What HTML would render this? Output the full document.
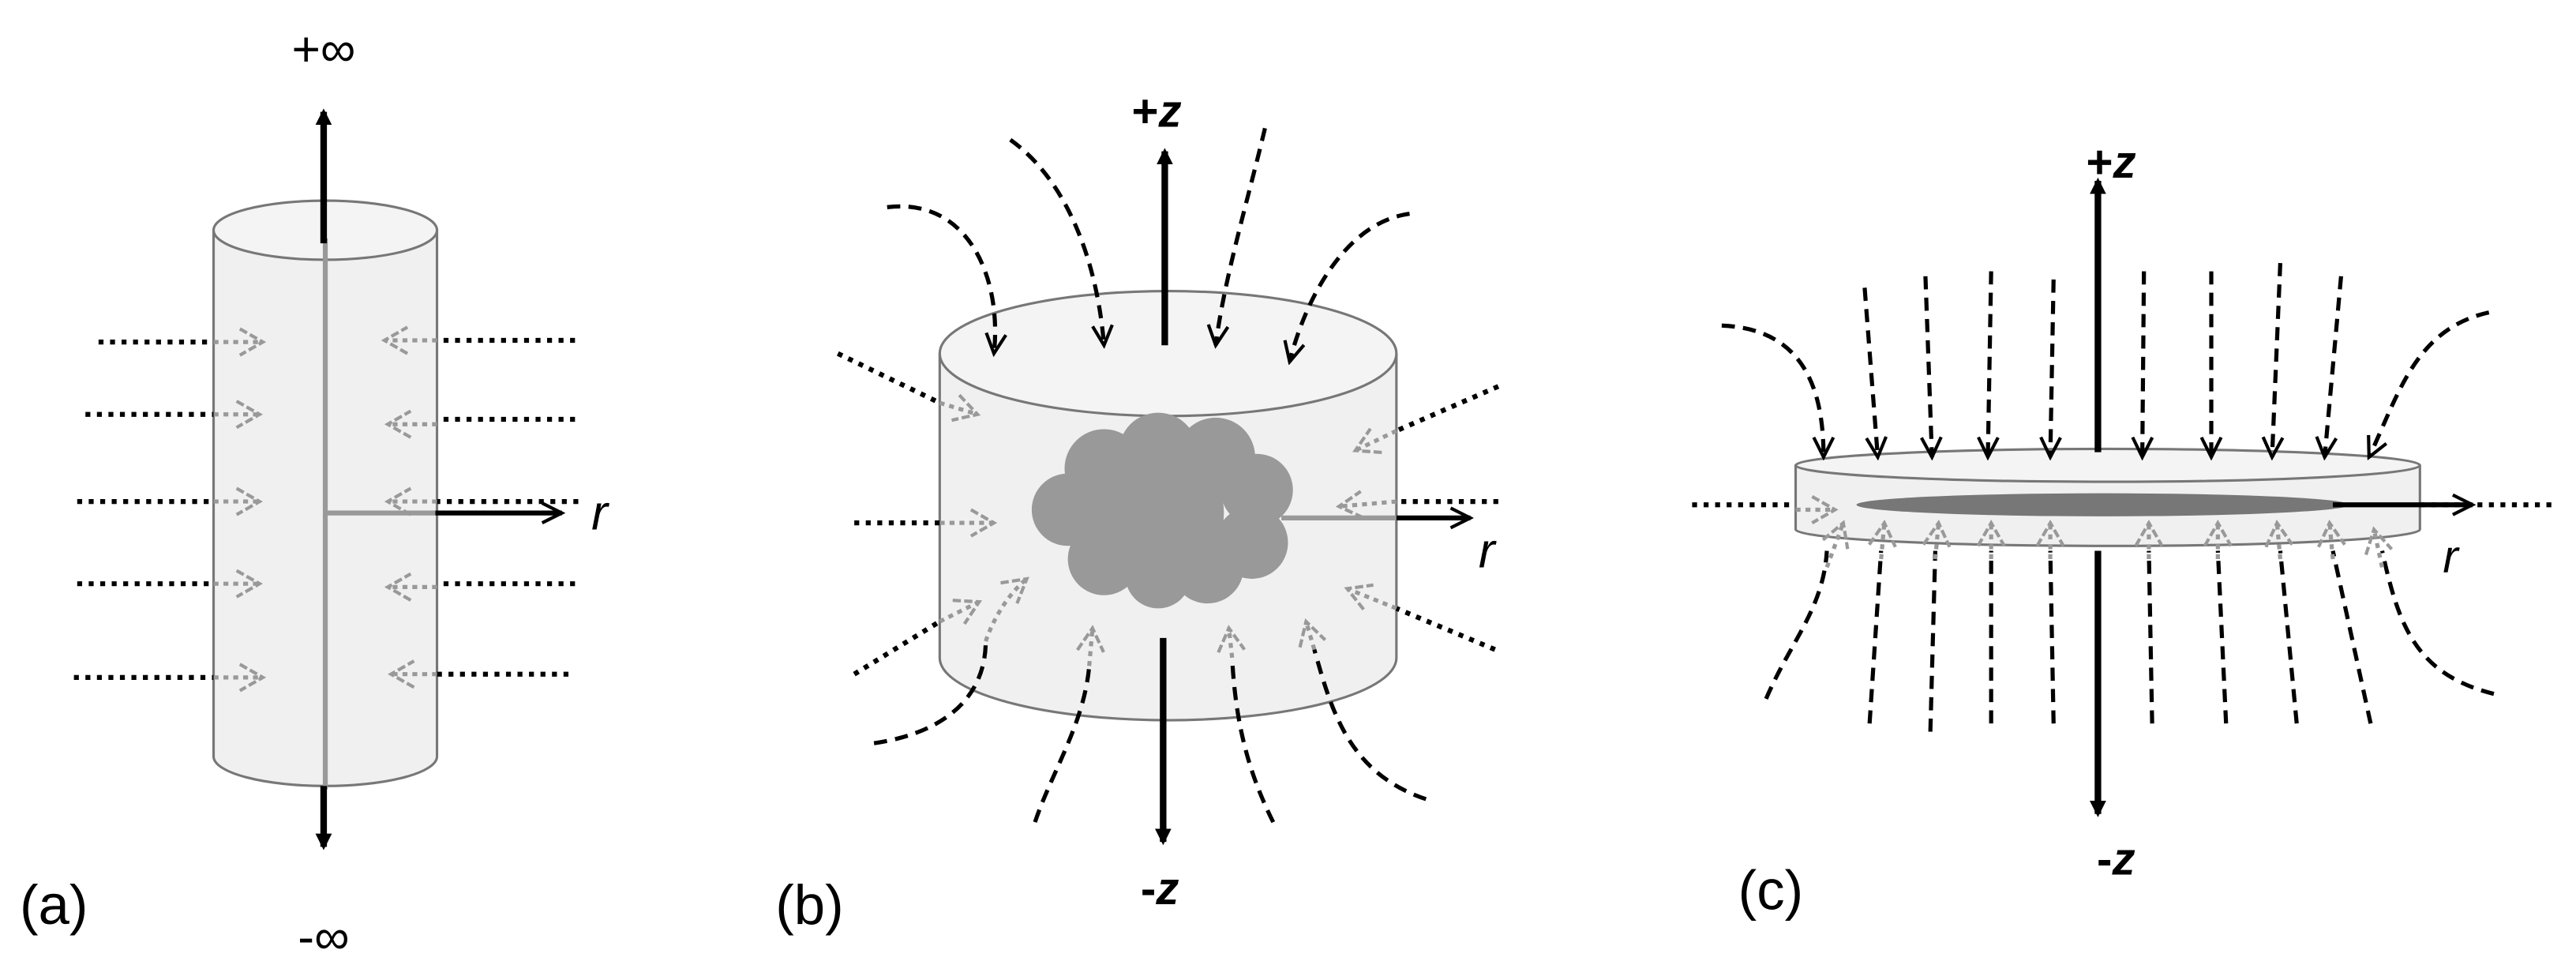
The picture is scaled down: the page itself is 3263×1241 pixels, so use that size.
<!DOCTYPE html>
<html><head><meta charset="utf-8"><style>html,body{margin:0;padding:0;background:#fff}svg{display:block}</style></head>
<body>
<svg width="3263" height="1241" viewBox="0 0 1568 596" preserveAspectRatio="none" xmlns="http://www.w3.org/2000/svg" font-family="Liberation Sans, sans-serif">
<defs>
<marker id="ab" markerWidth="10" markerHeight="10" refX="8" refY="5" orient="auto" markerUnits="userSpaceOnUse" viewBox="0 0 10 10"><path d="M0,0 L10,5 L0,10 z" fill="#000"/></marker>
<marker id="ob" markerWidth="16" markerHeight="16" refX="14" refY="8" orient="auto" markerUnits="userSpaceOnUse"><path d="M2,2 L14,8 L2,14" fill="none" stroke="#000" stroke-width="2"/></marker>
<marker id="og" markerWidth="20" markerHeight="20" refX="17" refY="10" orient="auto" markerUnits="userSpaceOnUse"><path d="M3,2 L17,10 L3,18" fill="none" stroke="#999" stroke-width="2" stroke-dasharray="5,2"/></marker>
</defs>
<rect width="1568" height="596" fill="#fff"/>

<!-- (a) -->
<path d="M130,140 L130,460 A68,18 0 0 0 266,460 L266,140" fill="#f0f0f0" stroke="#777" stroke-width="1.5"/>
<ellipse cx="198" cy="140" rx="68" ry="18" fill="#f4f4f4" stroke="#777" stroke-width="1.5"/>
<line x1="198" y1="145" x2="198" y2="480" stroke="#999" stroke-width="3"/>
<line x1="198" y1="312" x2="265" y2="312" stroke="#999" stroke-width="3"/>
<line x1="265" y1="312" x2="342" y2="312" stroke="#000" stroke-width="3" marker-end="url(#ob)"/>
<line x1="197" y1="148" x2="197" y2="68" stroke="#000" stroke-width="4" marker-end="url(#ab)"/>
<line x1="197" y1="478" x2="197" y2="515" stroke="#000" stroke-width="4" marker-end="url(#ab)"/>
<text x="197" y="40" font-size="30" text-anchor="middle">+∞</text>
<text x="197" y="580" font-size="30" text-anchor="middle">-∞</text>
<text x="360" y="322" font-size="30" font-style="italic">r</text>
<text x="12" y="562" font-size="34">(a)</text>
<g stroke="#000" stroke-width="3" stroke-dasharray="3,4">
<line x1="60" y1="208" x2="130" y2="208"/><line x1="52" y1="252" x2="130" y2="252"/><line x1="47" y1="305" x2="130" y2="305"/><line x1="47" y1="355" x2="130" y2="355"/><line x1="45" y1="412" x2="130" y2="412"/>
<line x1="350" y1="207" x2="266" y2="207"/><line x1="350" y1="255" x2="266" y2="255"/><line x1="352" y1="305" x2="266" y2="305"/><line x1="350" y1="355" x2="266" y2="355"/><line x1="346" y1="410" x2="266" y2="410"/>
</g>
<g stroke="#999" stroke-width="2.5" stroke-dasharray="3,3">
<line x1="130" y1="208" x2="160" y2="208" marker-end="url(#og)"/><line x1="130" y1="252" x2="158" y2="252" marker-end="url(#og)"/><line x1="130" y1="305" x2="158" y2="305" marker-end="url(#og)"/><line x1="130" y1="355" x2="158" y2="355" marker-end="url(#og)"/><line x1="130" y1="412" x2="160" y2="412" marker-end="url(#og)"/>
<line x1="266" y1="207" x2="234" y2="207" marker-end="url(#og)"/><line x1="266" y1="258" x2="236" y2="258" marker-end="url(#og)"/><line x1="266" y1="305" x2="236" y2="305" marker-end="url(#og)"/><line x1="266" y1="357" x2="236" y2="357" marker-end="url(#og)"/><line x1="266" y1="410" x2="238" y2="410" marker-end="url(#og)"/>
</g>

<!-- (b) -->
<path d="M572,215 L572,400 A139,38 0 0 0 850,400 L850,215" fill="#f0f0f0" stroke="#777" stroke-width="1.5"/>
<ellipse cx="711" cy="215" rx="139" ry="38" fill="#f4f4f4" stroke="#777" stroke-width="1.5"/>
<g fill="#999">
<circle cx="650" cy="310" r="22"/><circle cx="672" cy="285" r="24"/><circle cx="705" cy="275" r="24"/><circle cx="740" cy="278" r="24"/><circle cx="765" cy="298" r="22"/><circle cx="762" cy="330" r="22"/><circle cx="735" cy="345" r="22"/><circle cx="705" cy="350" r="20"/><circle cx="672" cy="340" r="22"/><circle cx="705" cy="312" r="40"/>
</g>
<line x1="780" y1="315" x2="850" y2="315" stroke="#999" stroke-width="3"/>
<line x1="850" y1="315" x2="895" y2="315" stroke="#000" stroke-width="3" marker-end="url(#ob)"/>
<line x1="709" y1="210" x2="709" y2="92" stroke="#000" stroke-width="4" marker-end="url(#ab)"/>
<line x1="708" y1="388" x2="708" y2="512" stroke="#000" stroke-width="4" marker-end="url(#ab)"/>
<text x="704" y="77" font-size="28" font-weight="bold" text-anchor="middle">+<tspan font-style="italic">z</tspan></text>
<text x="706" y="550" font-size="28" font-weight="bold" text-anchor="middle">-<tspan font-style="italic">z</tspan></text>
<text x="900" y="345" font-size="30" font-style="italic">r</text>
<text x="472" y="562" font-size="34">(b)</text>
<g fill="none" stroke="#000" stroke-width="2.5" stroke-dasharray="8,5">
<path d="M540,126 C590,120 610,170 605,215" marker-end="url(#ob)"/>
<path d="M615,85 C650,110 668,160 672,210" marker-end="url(#ob)"/>
<path d="M770,78 C760,120 745,170 740,210" marker-end="url(#ob)"/>
<path d="M858,130 C820,135 795,180 785,220" marker-end="url(#ob)"/>
<path d="M532,452 C580,445 600,420 600,390"/>
<path d="M630,500 C640,470 660,440 663,405"/>
<path d="M775,500 C760,470 752,440 750,400"/>
<path d="M868,486 C820,470 810,430 800,395"/>
</g>
<g stroke="#000" stroke-width="3" stroke-dasharray="3,4">
<line x1="510" y1="215" x2="572" y2="245"/><line x1="520" y1="318" x2="572" y2="318"/><line x1="520" y1="410" x2="572" y2="378"/>
<line x1="912" y1="235" x2="850" y2="262"/><line x1="912" y1="305" x2="850" y2="305"/><line x1="910" y1="395" x2="850" y2="370"/>
</g>
<g fill="none" stroke="#999" stroke-width="2.5" stroke-dasharray="3,3">
<line x1="572" y1="245" x2="595" y2="252" marker-end="url(#og)"/><line x1="572" y1="318" x2="605" y2="318" marker-end="url(#og)"/><line x1="572" y1="378" x2="596" y2="366" marker-end="url(#og)"/>
<line x1="850" y1="262" x2="825" y2="274" marker-end="url(#og)"/><line x1="850" y1="305" x2="815" y2="308" marker-end="url(#og)"/><line x1="850" y1="370" x2="820" y2="358" marker-end="url(#og)"/>
<path d="M600,390 C605,375 615,360 625,352" marker-end="url(#og)"/><path d="M663,405 L665,382" marker-end="url(#og)"/><path d="M750,400 L748,382" marker-end="url(#og)"/><path d="M800,395 L795,378" marker-end="url(#og)"/>
</g>

<!-- (c) -->
<line x1="1030" y1="307" x2="1093" y2="307" stroke="#000" stroke-width="3" stroke-dasharray="3,4"/>
<line x1="1473" y1="307" x2="1555" y2="307" stroke="#000" stroke-width="3" stroke-dasharray="3,4"/>
<path d="M1093,283 L1093,322 A190,10 0 0 0 1473,322 L1473,283" fill="#f0f0f0" stroke="#777" stroke-width="1.5"/>
<ellipse cx="1283" cy="283" rx="190" ry="10" fill="#f4f4f4" stroke="#777" stroke-width="1.5"/>
<ellipse cx="1280" cy="307" rx="150" ry="7" fill="#777"/>
<line x1="1420" y1="307" x2="1505" y2="307" stroke="#000" stroke-width="3" marker-end="url(#ob)"/>
<line x1="1277" y1="275" x2="1277" y2="110" stroke="#000" stroke-width="4" marker-end="url(#ab)"/>
<line x1="1277" y1="335" x2="1277" y2="495" stroke="#000" stroke-width="4" marker-end="url(#ab)"/>
<text x="1285" y="108" font-size="28" font-weight="bold" text-anchor="middle">+<tspan font-style="italic">z</tspan></text>
<text x="1288" y="532" font-size="28" font-weight="bold" text-anchor="middle">-<tspan font-style="italic">z</tspan></text>
<text x="1487" y="348" font-size="28" font-style="italic">r</text>
<text x="1058" y="553" font-size="34">(c)</text>
<g fill="none" stroke="#000" stroke-width="2.5" stroke-dasharray="8,5">
<path d="M1048,198 C1100,200 1110,240 1110,278" marker-end="url(#ob)"/>
<path d="M1135,175 L1143,278" marker-end="url(#ob)"/>
<path d="M1172,168 L1176,278" marker-end="url(#ob)"/>
<path d="M1212,165 L1210,278" marker-end="url(#ob)"/>
<path d="M1250,170 L1248,278" marker-end="url(#ob)"/>
<path d="M1305,165 L1304,278" marker-end="url(#ob)"/>
<path d="M1346,165 L1346,278" marker-end="url(#ob)"/>
<path d="M1388,160 L1383,278" marker-end="url(#ob)"/>
<path d="M1425,168 L1415,278" marker-end="url(#ob)"/>
<path d="M1515,190 C1470,200 1460,240 1442,278" marker-end="url(#ob)"/>
<path d="M1075,425 C1090,390 1110,370 1112,335"/>
<path d="M1138,440 L1145,335"/><path d="M1175,445 L1178,335"/><path d="M1212,440 L1212,335"/><path d="M1250,440 L1248,335"/>
<path d="M1310,440 L1308,335"/><path d="M1355,440 L1350,335"/><path d="M1398,440 L1388,335"/><path d="M1443,440 L1420,335"/>
<path d="M1518,422 C1470,410 1460,380 1450,335"/>
</g>
<g fill="none" stroke="#999" stroke-width="2.5" stroke-dasharray="3,3">
<line x1="1093" y1="310" x2="1117" y2="310" marker-end="url(#og)"/>
<line x1="1112" y1="345" x2="1122" y2="318" marker-end="url(#og)"/><line x1="1145" y1="340" x2="1147" y2="318" marker-end="url(#og)"/><line x1="1178" y1="340" x2="1180" y2="318" marker-end="url(#og)"/><line x1="1212" y1="340" x2="1212" y2="318" marker-end="url(#og)"/><line x1="1248" y1="340" x2="1248" y2="318" marker-end="url(#og)"/><line x1="1308" y1="340" x2="1308" y2="318" marker-end="url(#og)"/><line x1="1350" y1="340" x2="1350" y2="318" marker-end="url(#og)"/><line x1="1388" y1="340" x2="1386" y2="318" marker-end="url(#og)"/><line x1="1420" y1="340" x2="1418" y2="318" marker-end="url(#og)"/><line x1="1450" y1="345" x2="1445" y2="322" marker-end="url(#og)"/>
</g>
</svg>
</body></html>
